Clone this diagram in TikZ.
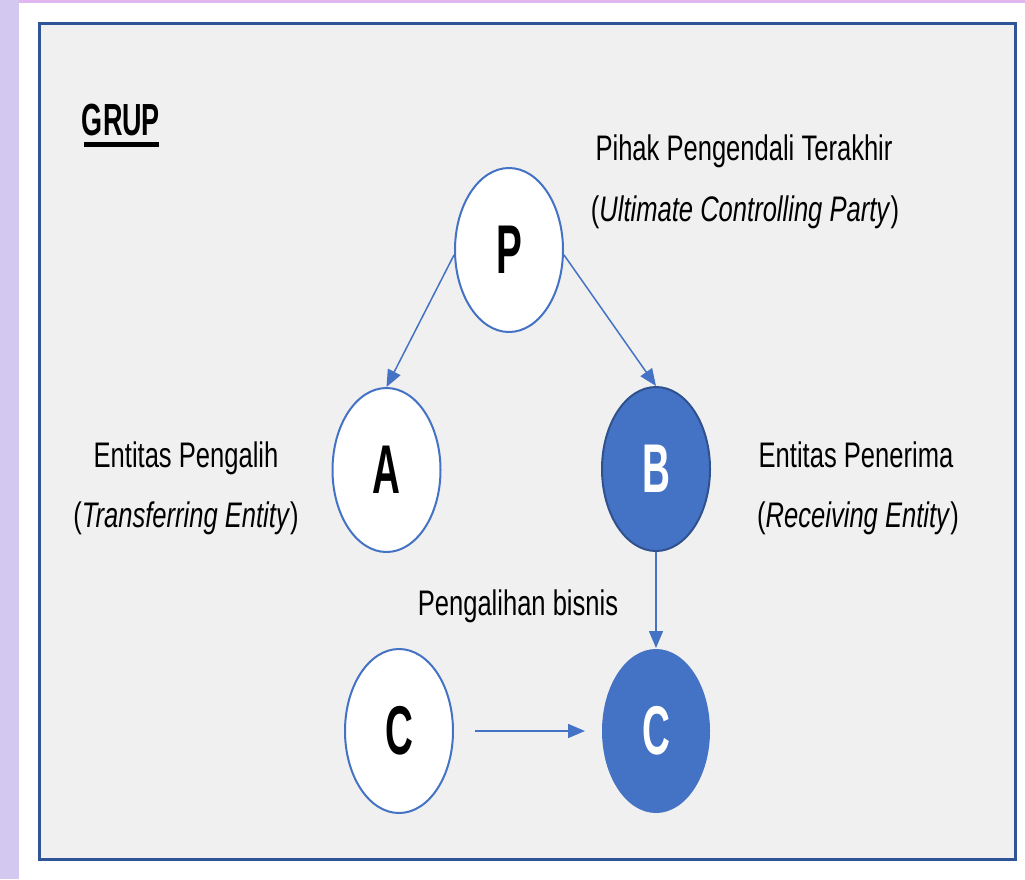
\documentclass[tikz,border=0pt]{standalone}
\usepackage{fontspec}
\usetikzlibrary{shapes.geometric,arrows.meta}
\newfontfamily\txtfont[FakeStretch=0.72]{Liberation Sans}
\newfontfamily\grupfont[FakeStretch=0.6]{Liberation Sans}
\newfontfamily\letfont[FakeStretch=0.56]{Liberation Sans}
\definecolor{accblue}{HTML}{4472C4}
\definecolor{darkblue}{HTML}{2F528F}
\definecolor{frameblue}{HTML}{2F5597}
\definecolor{boxgray}{HTML}{F0F0F0}
\definecolor{stripL}{HTML}{D2C8F0}
\definecolor{stripT}{HTML}{E2B6F0}
\tikzset{
  ent/.style={ellipse, minimum width=108pt, minimum height=164pt, inner sep=0pt, line width=2pt, font=\letfont\bfseries\fontsize{69}{69}\selectfont},
  whiteent/.style={ent, draw=accblue, fill=white, text=black},
  blueent/.style={ent, fill=accblue, text=white},
  lbl/.style={anchor=base, inner sep=0pt, font=\txtfont\fontsize{35.5}{35.5}\selectfont},
  conn/.style={draw=accblue, line width=1.5pt, -{Triangle[length=17pt,width=14pt]}, color=accblue}
}
\begin{document}
\begin{tikzpicture}[x=1pt,y=-1pt]
\useasboundingbox (0,0) rectangle (1025,879);
\fill[white] (0,0) rectangle (1025,879);
\fill[stripL] (0,0) rectangle (19,879);
\fill[stripT] (19,0) rectangle (1025,2.5);
\draw[line width=3.5pt, draw=frameblue, fill=boxgray] (39.6,23.6) rectangle (1015.4,859.4);
% title
\node[anchor=base, inner sep=0pt, font=\grupfont\bfseries\fontsize{45}{45}\selectfont] (grup) at (121,135) {GRUP};
\fill[black] (84,142) rectangle (159,147);
% entities
\node[whiteent] (P) at (509,250) {P};
\node[whiteent] (A) at (386.5,470) {A};
\node[blueent, draw=darkblue] (B) at (656,469) {B};
\node[whiteent] (C1) at (399,731) {C};
\node[blueent] (C2) at (656,731) {C};
% labels
\node[lbl] (pt1) at (744,160) {Pihak Pengendali Terakhir};
\node[lbl] (pt2) at (745,221) {(\textit{Ultimate Controlling Party})};
\node[lbl] (at1) at (186,467) {Entitas Pengalih};
\node[lbl] (at2) at (186,527) {(\textit{Transferring Entity})};
\node[lbl] (bt1) at (856,467) {Entitas Penerima};
\node[lbl] (bt2) at (858,527) {(\textit{Receiving Entity})};
\node[lbl] (pb) at (518,615) {Pengalihan bisnis};
% connectors
\draw[conn] (P.185) -- (A.north);
\draw[conn] (P.355) -- (B.north);
\draw[conn] (B.south) -- (C2.north);
\draw[conn, shorten <=21pt, shorten >=16pt] (C1.east) -- (C2.west);
\end{tikzpicture}
\end{document}
